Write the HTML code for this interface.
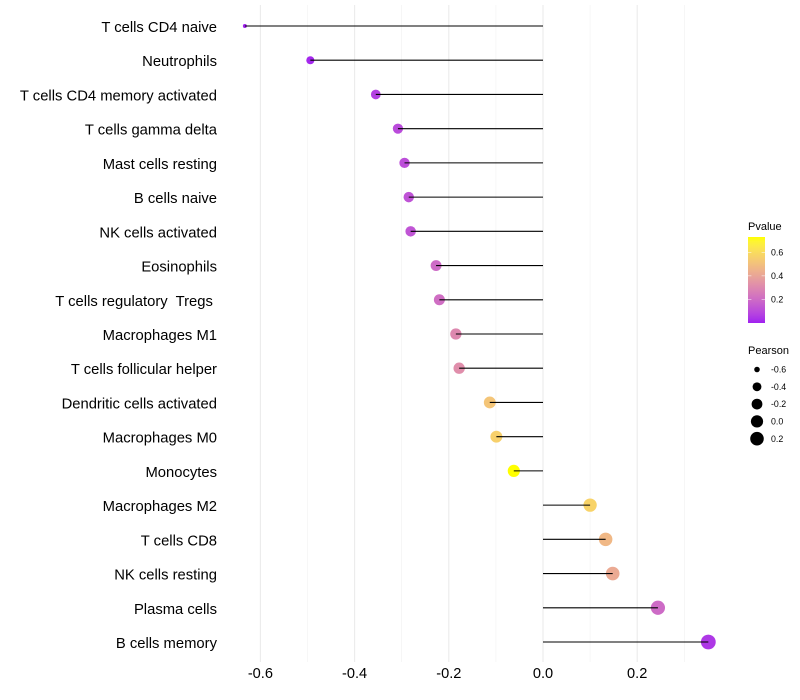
<!DOCTYPE html>
<html>
<head>
<meta charset="utf-8">
<title>Pearson lollipop chart</title>
<style>
html,body{margin:0;padding:0;background:#fff;width:800px;height:700px;overflow:hidden}
svg{display:block}
text{font-family:"Liberation Sans",sans-serif;white-space:pre}
</style>
</head>
<body>
<svg id="chart" xmlns="http://www.w3.org/2000/svg" width="800" height="700" viewBox="0 0 800 700"></svg>
<script>
const categories = ["T cells CD4 naive","Neutrophils","T cells CD4 memory activated","T cells gamma delta","Mast cells resting","B cells naive","NK cells activated","Eosinophils","T cells regulatory  Tregs ","Macrophages M1","T cells follicular helper","Dendritic cells activated","Macrophages M0","Monocytes","Macrophages M2","T cells CD8","NK cells resting","Plasma cells","B cells memory"];
const pearson = [-0.633,-0.494,-0.355,-0.308,-0.294,-0.285,-0.281,-0.227,-0.220,-0.185,-0.178,-0.113,-0.099,-0.062,0.100,0.133,0.148,0.244,0.351];
const pvalue = [0.005,0.015,0.07,0.10,0.11,0.125,0.13,0.20,0.21,0.30,0.32,0.52,0.56,0.73,0.57,0.47,0.42,0.20,0.05];
const majorTicks = [-0.6,-0.4,-0.2,0.0,0.2];
const majorLabels = ["-0.6","-0.4","-0.2","0.0","0.2"];
const minorTicks = [-0.5,-0.3,-0.1,0.1,0.3];
const colorTicks = [0.2,0.4,0.6];
const colorLabels = ["0.2","0.4","0.6"];
const sizeTicks = [-0.6,-0.4,-0.2,0.0,0.2];
const sizeLabels = ["-0.6","-0.4","-0.2","0.0","0.2"];

const NS = "http://www.w3.org/2000/svg";
const svg = document.getElementById("chart");
function mk(tag, attrs, parent){
  const e = document.createElementNS(NS, tag);
  for (const k in attrs) e.setAttribute(k, attrs[k]);
  (parent || svg).appendChild(e);
  return e;
}

// axis functions
const panelTop = 5, panelBottom = 662;
const xScale = v => 543 + 471 * v;
const yScale = i => 26 + i * (642 - 26) / (categories.length - 1);
const pMax = Math.max(...pvalue);
const sMin = Math.min(...pearson), sMax = Math.max(...pearson);
const rScale = v => 1.8 + (7.2 - 1.8) * Math.sqrt(Math.max(0, (v - sMin) / (sMax - sMin)));

// Lab colour interpolation, purple -> yellow
function rgb2lab(r,g,b){
  const f = c => { c/=255; return c<=0.04045 ? c/12.92 : Math.pow((c+0.055)/1.055,2.4); };
  const R=f(r),G=f(g),B=f(b);
  const X=(0.4124*R+0.3576*G+0.1805*B)/0.95047, Y=0.2126*R+0.7152*G+0.0722*B, Z=(0.0193*R+0.1192*G+0.9505*B)/1.08883;
  const h = t => t>0.008856 ? Math.cbrt(t) : 7.787*t+16/116;
  return [116*h(Y)-16, 500*(h(X)-h(Y)), 200*(h(Y)-h(Z))];
}
function lab2hex(L,a,b){
  const fy=(L+16)/116, fx=fy+a/500, fz=fy-b/200;
  const h = t => t*t*t>0.008856 ? t*t*t : (t-16/116)/7.787;
  const X=h(fx)*0.95047,Y=h(fy),Z=h(fz)*1.08883;
  const R=3.2406*X-1.5372*Y-0.4986*Z, G=-0.9689*X+1.8758*Y+0.0415*Z, B=0.0557*X-0.2040*Y+1.0570*Z;
  const g = c => { c=Math.max(0,Math.min(1,c)); c = c<=0.0031308 ? 12.92*c : 1.055*Math.pow(c,1/2.4)-0.055; return Math.round(c*255).toString(16).padStart(2,"0"); };
  return "#"+g(R)+g(G)+g(B);
}
const labLow = rgb2lab(160,32,240), labHigh = rgb2lab(255,255,0);
function colorScale(p){
  const t = Math.max(0, Math.min(1, p / pMax));
  return lab2hex(labLow[0]+(labHigh[0]-labLow[0])*t, labLow[1]+(labHigh[1]-labLow[1])*t, labLow[2]+(labHigh[2]-labLow[2])*t);
}

// grid
minorTicks.forEach(v => {
  const g = mk("line",{x1:xScale(v),x2:xScale(v),y1:panelTop,y2:panelBottom,stroke:"#f0f0f0","stroke-width":0.55});
  
  
});
majorTicks.forEach(v => {
  const g = mk("line",{x1:xScale(v),x2:xScale(v),y1:panelTop,y2:panelBottom,stroke:"#ebebeb","stroke-width":1.07});
  
  
});

// x tick labels
majorTicks.forEach((v,i) => {
  const t = mk("text",{x:xScale(v),y:678,"text-anchor":"middle","font-size":14.6,fill:"#000"});
  t.textContent = majorLabels[i];
  
  
});

// category labels
categories.forEach((c,i) => {
  const t = mk("text",{x:217,y:yScale(i)+6,"text-anchor":"end","font-size":14.8,fill:"#000"});
  t.textContent = c;
  
  
});

// points
pearson.forEach((v,i) => {
  const p = mk("circle",{cx:xScale(v),cy:yScale(i),r:rScale(v)+0.2,fill:colorScale(pvalue[i])});
  
  
});
// segments
pearson.forEach((v,i) => {
  const s = mk("line",{x1:xScale(v),x2:xScale(0),y1:yScale(i),y2:yScale(i),stroke:"#000","stroke-width":1.07});
  
  
});

// colour legend
const pTitle = mk("text",{x:748,y:230,"font-size":11,fill:"#000"});
pTitle.textContent = "Pvalue";



const defs = mk("defs",{});
const grad = mk("linearGradient",{id:"pv",x1:0,y1:1,x2:0,y2:0},defs);
for (let k = 0; k <= 20; k++) {
  mk("stop",{offset:k/20,"stop-color":colorScale(pMax*k/20)},grad);
}
const barTop = 237, barBottom = 323;
const legendY = p => barBottom - (p / pMax) * (barBottom - barTop);
const bar = mk("rect",{x:748,y:barTop,width:17,height:barBottom-barTop,fill:"url(#pv)"});


colorTicks.forEach((p,i) => {
  const y = legendY(p);
  const a = mk("line",{x1:748,x2:751.4,y1:y,y2:y,stroke:"#fff","stroke-width":0.5});
  
  
  const b = mk("line",{x1:761.6,x2:765,y1:y,y2:y,stroke:"#fff","stroke-width":0.5});
  
  
  const t = mk("text",{x:771,y:y+3.1,"font-size":8.8,fill:"#000"});
  t.textContent = colorLabels[i];
  
  
});

// size legend
const sTitle = mk("text",{x:748,y:354,"font-size":11,fill:"#000"});
sTitle.textContent = "Pearson";


const sizeY = i => 369.5 + i * 17.3;
sizeTicks.forEach((v,i) => {
  const c = mk("circle",{cx:757,cy:sizeY(i),r:rScale(v),fill:"#000"});
  
  
  const t = mk("text",{x:771,y:sizeY(i)+3.1,"font-size":8.8,fill:"#000"});
  t.textContent = sizeLabels[i];
  
  
});
</script>
</body>
</html>
